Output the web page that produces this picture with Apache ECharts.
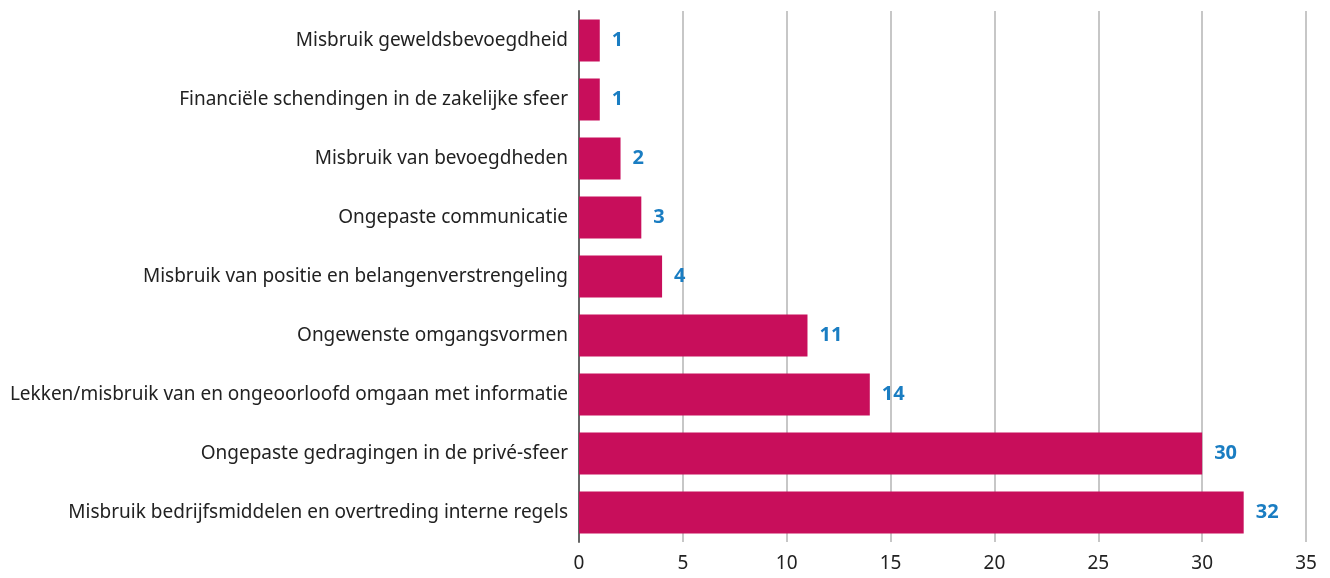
<!DOCTYPE html>
<html>
<head>
<meta charset="utf-8">
<style>
  html, body { margin: 0; padding: 0; background: #fff; }
  #chart { width: 1330px; height: 578px; }
</style>
<script src="https://cdn.jsdelivr.net/npm/echarts@6/dist/echarts.min.js"></script>
</head>
<body>
<div id="chart"></div>
<script>
// categories top to bottom
const categories = [
  'Misbruik geweldsbevoegdheid',
  'Financiële schendingen in de zakelijke sfeer',
  'Misbruik van bevoegdheden',
  'Ongepaste communicatie',
  'Misbruik van positie en belangenverstrengeling',
  'Ongewenste omgangsvormen',
  'Lekken/misbruik van en ongeoorloofd omgaan met informatie',
  'Ongepaste gedragingen in de privé-sfeer',
  'Misbruik bedrijfsmiddelen en overtreding interne regels'
];
const counts = [1, 1, 2, 3, 4, 11, 14, 30, 32];
const xTicks = [0, 5, 10, 15, 20, 25, 30, 35];

const chart = echarts.init(document.getElementById('chart'));
const font = '"Noto Sans", "Open Sans", sans-serif';

chart.setOption({
  animation: false,
  grid: { left: 579, right: 24, top: 11, bottom: 36, containLabel: false },
  xAxis: {
    type: 'value',
    min: xTicks[0],
    max: xTicks[xTicks.length - 1],
    interval: 5,
    axisLine: { show: false },
    axisTick: { show: false },
    axisLabel: { color: '#222', fontSize: 19, fontFamily: font, margin: 12 },
    splitLine: { lineStyle: { color: '#b5b5b5', width: 1.5 } }
  },
  yAxis: {
    type: 'category',
    inverse: true,
    data: categories,
    axisLine: { lineStyle: { color: '#666', width: 2 } },
    axisTick: { show: false },
    axisLabel: { color: '#222', fontSize: 19, fontFamily: font, margin: 11, padding: [9, 0, 0, 0] }
  },
  series: [{
    type: 'bar',
    data: counts,
    barWidth: 42,
    itemStyle: { color: '#c80e5b' },
    label: {
      show: true,
      position: 'right',
      distance: 12,
      color: '#1a7dc2',
      fontWeight: 'bold',
      fontSize: 20,
      fontFamily: font,
      padding: [3, 0, 0, 0]
    }
  }]
});
</script>
</body>
</html>
